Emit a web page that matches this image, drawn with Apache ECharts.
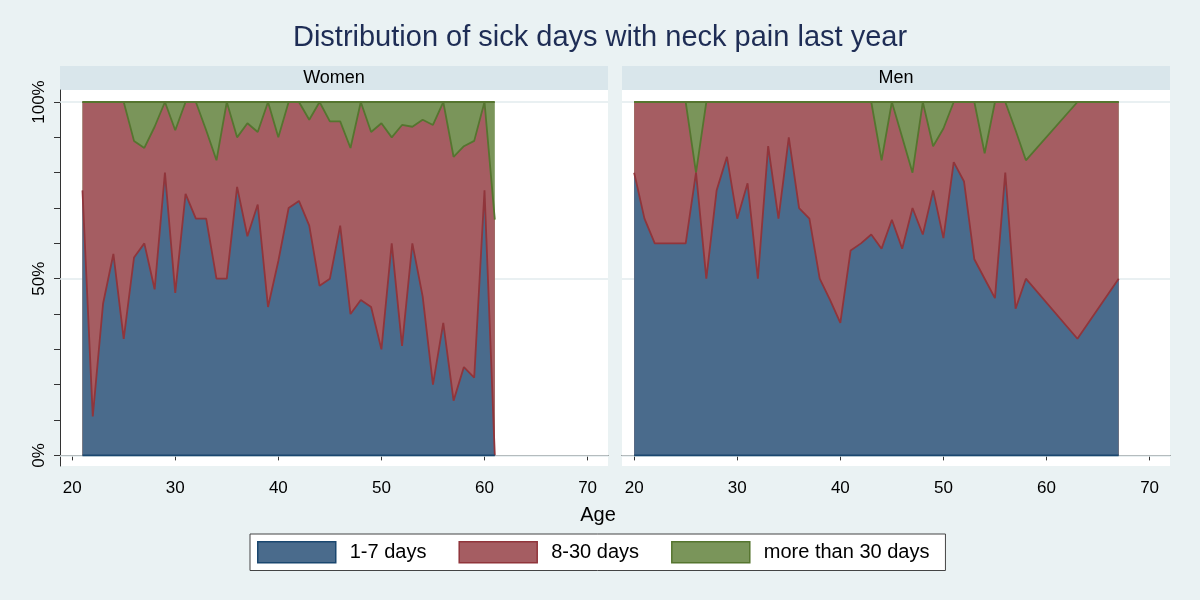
<!DOCTYPE html>
<html>
<head>
<meta charset="utf-8">
<script src="https://cdn.jsdelivr.net/npm/echarts@6/dist/echarts.min.js"></script>
<style>
  html, body { margin: 0; padding: 0; background: #eaf2f3; }
  #chart { width: 1200px; height: 600px; }
</style>
</head>
<body>
<div id="chart"></div>
<script>
// share of sick days per age (percent)
const womenAges = [21, 22, 23, 24, 25, 26, 27, 28, 29, 30, 31, 32, 33, 34, 35, 36, 37, 38, 39, 40,
  41, 42, 43, 44, 45, 46, 47, 48, 49, 50, 51, 52, 53, 54, 55, 56, 57, 58, 59, 60, 61];
const womenShort = [75, 11, 43, 57, 33, 56, 60, 47, 80, 46, 74, 67, 67, 50, 50, 76, 62, 71, 42, 55,
  70, 72, 65, 48, 50, 65, 40, 44, 42, 30, 60, 31, 60, 45, 20, 37.5, 15.5, 25, 22, 75, 0];
const womenMid = [25, 89, 57, 43, 67, 33, 27, 46, 20, 46, 26, 33, 25, 33.5, 50, 14, 32, 20.5, 58, 35,
  30, 28, 30, 52, 44.5, 29.5, 47, 56, 49.5, 64, 30, 62.5, 33, 50, 73.5, 62.5, 69, 62.5, 67, 25, 66.7];
const womenLong = [0, 0, 0, 0, 0, 11, 13, 7, 0, 8, 0, 0, 8, 16.5, 0, 10, 6, 8.5, 0, 10,
  0, 0, 5, 0, 5.5, 5.5, 13, 0, 8.5, 6, 10, 6.5, 7, 5, 6.5, 0, 15.5, 12.5, 11, 0, 33.3];

const menAges = [20, 21, 22, 23, 24, 25, 26, 27, 28, 29, 30, 31, 32, 33, 34, 35, 36, 37, 38, 39,
  40, 41, 42, 43, 44, 45, 46, 47, 48, 49, 50, 51, 52, 53, 54, 55, 56, 57, 58, 63, 67];
const menShort = [80, 67, 60, 60, 60, 60, 80, 50, 75, 84.5, 67, 77, 50, 87.5, 67, 90, 70, 67, 50, 44,
  37.5, 58, 60, 62.5, 58.5, 66.7, 58.5, 70, 62.5, 75, 61.5, 83, 77.5, 55.5, 50, 44.5, 80, 41.5, 50, 33, 50];
const menMid = [20, 33, 40, 40, 40, 40, 0, 50, 25, 15.5, 33, 23, 50, 12.5, 33, 10, 30, 33, 50, 56,
  62.5, 42, 40, 37.5, 25, 33.3, 31.5, 10, 37.5, 12.5, 31, 17, 22.5, 44.5, 35.5, 55.5, 20, 50.5, 33.5, 67, 50];
const menLong = [0, 0, 0, 0, 0, 0, 20, 0, 0, 0, 0, 0, 0, 0, 0, 0, 0, 0, 0, 0,
  0, 0, 0, 0, 16.5, 0, 10, 20, 0, 12.5, 7.5, 0, 0, 0, 14.5, 0, 0, 8, 16.5, 0, 0];

const seriesNames = ['1-7 days', '8-30 days', 'more than 30 days'];
const xTicks = [20, 30, 40, 50, 60, 70];
const yTicks = [0, 10, 20, 30, 40, 50, 60, 70, 80, 90, 100];
const yLabels = [0, 50, 100];
const gridLevels = [0, 50, 100];

const FONT = '"Liberation Sans", Arial, sans-serif';
const fills = ['#4a6b8c', '#a55d62', '#7a955a'];
const edges = ['#1a476f', '#90353b', '#55752f'];
// Stata draws each polygon outline, so a band's top edge shows the colour of the band above it
const topEdges = ['#90353b', '#55752f', '#55752f'];

const chart = echarts.init(document.getElementById('chart'));

function xAxisFor(idx) {
  return {
    type: 'value', gridIndex: idx, min: 18.82, max: 71.98,
    axisLine: { show: true, lineStyle: { color: '#333', width: 1 } },
    axisTick: { show: true, customValues: xTicks, length: 5, lineStyle: { color: '#333' } },
    axisLabel: { customValues: xTicks, color: '#000', fontSize: 17, fontFamily: FONT, margin: 14 },
    splitLine: { show: false }
  };
}

function yAxisFor(idx) {
  return {
    type: 'value', gridIndex: idx, min: -3, max: 103.4, show: idx === 0,
    axisLine: { show: true, lineStyle: { color: '#333', width: 1 } },
    axisTick: { show: true, customValues: yTicks, length: 6, lineStyle: { color: '#333' } },
    axisLabel: {
      customValues: yLabels, formatter: '{value}%', rotate: 90,
      color: '#000', fontSize: 17, fontFamily: FONT, margin: 12
    },
    splitLine: { show: false }
  };
}

function panelSeries(idx, ages, bands) {
  const out = [];
  // light grid lines behind the areas
  out.push({
    type: 'line', xAxisIndex: idx, yAxisIndex: idx, data: [], z: 1, silent: true,
    markLine: {
      silent: true, z: 1, symbol: 'none', label: { show: false },
      lineStyle: { color: '#e2ebee', width: 1.5, type: 'solid' },
      data: gridLevels.map(v => ({ yAxis: v }))
    }
  });
  // running totals: each band is drawn down to 0, the outer band first
  const tops = [];
  let run = ages.map(() => 0);
  bands.forEach(vals => {
    run = run.map((r, i) => r + vals[i]);
    tops.push(run);
  });
  for (let k = bands.length - 1; k >= 0; k--) {
    out.push({
      name: seriesNames[k], type: 'line', xAxisIndex: idx, yAxisIndex: idx,
      symbol: 'none', z: 3,
      data: ages.map((a, i) => [a, tops[k][i]]),
      lineStyle: { color: topEdges[k], width: 1.8 },
      areaStyle: { color: fills[k], opacity: 1, origin: 0 },
      itemStyle: { color: fills[k] }
    });
  }
  // navy outline along the bottom of the first band
  out.push({
    type: 'line', xAxisIndex: idx, yAxisIndex: idx, symbol: 'none', z: 4, silent: true,
    data: ages.map(a => [a, 0]),
    lineStyle: { color: edges[0], width: 1.8 }
  });
  return out;
}

chart.setOption({
  animation: false,
  backgroundColor: '#eaf2f3',
  textStyle: { fontFamily: FONT },
  title: {
    text: 'Distribution of sick days with neck pain last year',
    left: 'center', top: 18,
    textStyle: { color: '#1e2d55', fontSize: 29, fontWeight: 'normal', fontFamily: FONT }
  },
  legend: {
    left: 250, top: 534,
    padding: [7, 16, 7, 7],
    backgroundColor: '#fff', borderColor: '#444', borderWidth: 1,
    itemWidth: 78, itemHeight: 21, itemGap: 32,
    textStyle: { color: '#000', fontSize: 20, fontFamily: FONT, padding: [0, 0, 0, 9] },
    data: seriesNames.map((n, k) => ({
      name: n, icon: 'rect',
      itemStyle: { color: fills[k], borderColor: edges[k], borderWidth: 1.5 }
    }))
  },
  grid: [
    { left: 60, top: 90, width: 548, height: 376, show: true, backgroundColor: '#fff', borderWidth: 0 },
    { left: 622, top: 90, width: 548, height: 376, show: true, backgroundColor: '#fff', borderWidth: 0 }
  ],
  xAxis: [xAxisFor(0), xAxisFor(1)],
  yAxis: [yAxisFor(0), yAxisFor(1)],
  graphic: [
    { type: 'rect', left: 60, top: 66, shape: { width: 548, height: 24 }, style: { fill: '#d9e6eb' }, silent: true },
    { type: 'rect', left: 622, top: 66, shape: { width: 548, height: 24 }, style: { fill: '#d9e6eb' }, silent: true },
    { type: 'text', x: 334, y: 78, silent: true,
      style: { text: 'Women', fill: '#000', fontSize: 18, fontFamily: FONT, align: 'center', verticalAlign: 'middle' } },
    { type: 'text', x: 896, y: 78, silent: true,
      style: { text: 'Men', fill: '#000', fontSize: 18, fontFamily: FONT, align: 'center', verticalAlign: 'middle' } },
    { type: 'text', x: 598, y: 515, silent: true,
      style: { text: 'Age', fill: '#000', fontSize: 20, fontFamily: FONT, align: 'center', verticalAlign: 'middle' } }
  ],
  series: [
    ...panelSeries(0, womenAges, [womenShort, womenMid, womenLong]),
    ...panelSeries(1, menAges, [menShort, menMid, menLong])
  ]
});
</script>
</body>
</html>
